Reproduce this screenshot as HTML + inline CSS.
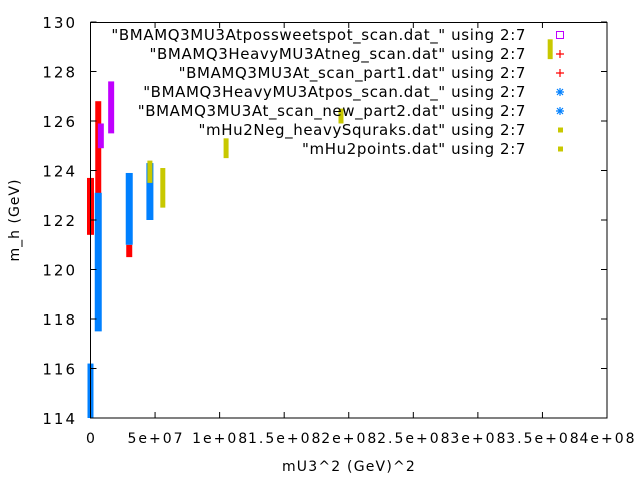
<!DOCTYPE html>
<html><head><meta charset="utf-8"><style>
body{margin:0;background:#fff}
svg{display:block;font-family:"DejaVu Sans","Liberation Sans",sans-serif}
</style></head><body>
<svg id="chart" width="640" height="480" viewBox="0 0 640 480" xmlns="http://www.w3.org/2000/svg">
<rect x="0" y="0" width="640" height="480" fill="#fff"/>
<g id="marks"></g>
<rect x="90.5" y="22.5" width="516.5" height="395.5" fill="none" stroke="#000"/>
<g id="axes"></g>
<g id="legend"></g>
<text x="19" y="220" font-size="14" letter-spacing="1" text-anchor="middle" transform="rotate(-90 19 220)" fill="#000">m_h (GeV)</text>
<text x="349" y="471" font-size="14" letter-spacing="1.2" text-anchor="middle" fill="#000">mU3^2 (GeV)^2</text>
</svg>
<script>
const xTicks=[0,5e7,1e8,1.5e8,2e8,2.5e8,3e8,3.5e8,4e8];
const xTickLabels=["0","5e+07","1e+08","1.5e+08","2e+08","2.5e+08","3e+08","3.5e+08","4e+08"];
const yTicks=[114,116,118,120,122,124,126,128,130];
const seriesNames=['"BMAMQ3MU3Atpossweetspot_scan.dat_" using 2:7','"BMAMQ3HeavyMU3Atneg_scan.dat" using 2:7','"BMAMQ3MU3At_scan_part1.dat" using 2:7','"BMAMQ3HeavyMU3Atpos_scan.dat_" using 2:7','"BMAMQ3MU3At_scan_new_part2.dat" using 2:7','"mHu2Neg_heavySquraks.dat" using 2:7','"mHu2points.dat" using 2:7'];
const seriesColors=["#c000ff","#ff0000","#ff0000","#0080ff","#0080ff","#c8c800","#c8c800"];
// ranges: x value, y low, y high
const s0x=[1.6e7,8e6]; const s0lo=[125.5,124.9]; const s0hi=[127.6,125.9];
const s1x=[6e6,3e7]; const s1lo=[121.0,120.5]; const s1hi=[126.8,121.0];
const s2x=[0]; const s2lo=[121.4]; const s2hi=[123.7];
const s3x=[6e6,3e7,4.6e7]; const s3lo=[117.5,121.0,122.0]; const s3hi=[123.1,123.9,124.3];
const s4x=[0]; const s4lo=[114.0]; const s4hi=[116.2];
const s5x=[4.6e7,5.6e7,1.05e8]; const s5lo=[123.5,122.5,124.5]; const s5hi=[124.4,124.1,125.3];
const s6x=[1.94e8,3.56e8]; const s6lo=[125.9,128.5]; const s6hi=[126.5,129.3];
const X=v=>90.5+v/4e8*516.5, Y=v=>418-(v-114)/16*396;
const NS="http://www.w3.org/2000/svg";
function mk(t,a,p){const e=document.createElementNS(NS,t);for(const k in a)e.setAttribute(k,a[k]);p.appendChild(e);return e;}
const axes=document.getElementById('axes');
xTicks.forEach((v,i)=>{
 const l=mk('line',{x1:X(v),x2:X(v),y1:418,y2:412,stroke:'#000'},axes);
 
 
 const l2=mk('line',{x1:X(v),x2:X(v),y1:22,y2:28,stroke:'#000'},axes);
 
 
 const t=mk('text',{x:X(v)+1,y:443,'font-size':14,'letter-spacing':2,'text-anchor':'middle'},axes);t.textContent=xTickLabels[i];
 
 
});
yTicks.forEach(v=>{
 const l=mk('line',{x1:90.5,x2:96.5,y1:Y(v),y2:Y(v),stroke:'#000'},axes);
 
 
 const l2=mk('line',{x1:607,x2:601,y1:Y(v),y2:Y(v),stroke:'#000'},axes);
 
 
 const t=mk('text',{x:77,y:Y(v)+6,'font-size':15,'letter-spacing':2,'text-anchor':'end'},axes);t.textContent=String(v);
 
 
});
const marks=document.getElementById('marks');
const all=[[s0x,s0lo,s0hi,6],[s1x,s1lo,s1hi,6],[s2x,s2lo,s2hi,7],[s3x,s3lo,s3hi,7],[s4x,s4lo,s4hi,6],[s5x,s5lo,s5hi,5],[s6x,s6lo,s6hi,5]];
[1,2,3,4,0,5,6].forEach(si=>{
 const [xs,lo,hi,w]=all[si];
 xs.forEach((x,i)=>{
  const r=mk('rect',{x:X(x)-w/2,y:Y(hi[i]),width:w,height:Y(lo[i])-Y(hi[i]),fill:seriesColors[si]},marks);
  
  
 });
});
const lg=document.getElementById('legend');
seriesNames.forEach((n,i)=>{
 const y=35+i*19;
 const t=mk('text',{x:526,y:y+5,'font-size':15,'letter-spacing':0.6,'text-anchor':'end'},lg);t.textContent=n;
 
 
 const c=seriesColors[i];let m;
 if(i==0)m=mk('rect',{x:556.5,y:y-3.5,width:7,height:7,fill:'none',stroke:c},lg);
 else if(i<3){m=mk('path',{d:`M556 ${y}h8M560 ${y-4}v8`,stroke:c,'stroke-width':1.2},lg);}
 else if(i<5){m=mk('path',{d:`M556 ${y}h8M560 ${y-4}v8M557 ${y-3}l6 6M563 ${y-3}l-6 6`,stroke:c,'stroke-width':1.2},lg);}
 else m=mk('rect',{x:558,y:y-2.5,width:5,height:5,fill:c},lg);
 
 
});
</script>
</body></html>
